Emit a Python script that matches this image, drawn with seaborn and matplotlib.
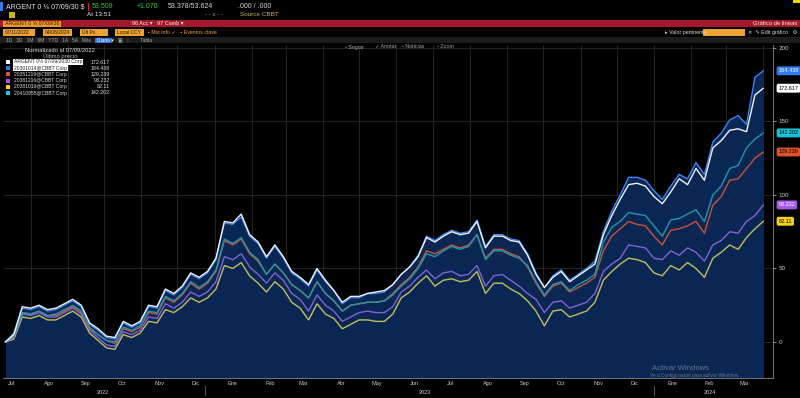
import pandas as pd
import matplotlib
matplotlib.use('Agg')
import matplotlib.pyplot as plt
import matplotlib.dates as mdates
from matplotlib.patches import Rectangle
from matplotlib.ticker import FuncFormatter
import seaborn as sns

# weekly closes, normalized to 0 at start
dates = pd.date_range('2022-07-11', periods=91, freq='7D')

argent_30 = [0, 5, 24, 23, 25, 22, 23, 26, 29, 25, 13, 9, 4, 3, 14, 11, 14, 25, 24, 36,
             33, 38, 47, 44, 48, 57, 82, 81, 87, 73, 68, 58, 66, 58, 48, 44, 39, 50, 42, 35,
             27, 31, 31, 33, 34, 35, 39, 46, 51, 58, 71, 68, 72, 75, 73, 74, 82, 64, 72, 72,
             69, 68, 59, 46, 37, 44, 48, 41, 45, 49, 53, 73, 86, 97, 107, 108, 106, 99, 94, 102,
             111, 107, 118, 110, 132, 137, 144, 145, 143, 168, 172.617]
bond_30 = [0, 6, 23, 22, 24, 21, 22, 25, 28, 24, 12, 8, 3, 2, 13, 10, 13, 24, 23, 35,
           32, 37, 46, 43, 47, 56, 81, 80, 85, 72, 67, 57, 65, 57, 47, 43, 38, 49, 41, 35,
           26, 30, 30, 33, 33, 34, 39, 46, 51, 59, 72, 69, 73, 76, 74, 75, 83, 65, 73, 73,
           70, 69, 60, 47, 37, 45, 49, 42, 46, 50, 55, 75, 89, 100, 112, 112, 110, 103, 97, 106,
           114, 111, 122, 114, 136, 142, 151, 154, 148, 180, 184.438]
bond_35 = [0, 4, 20, 19, 21, 18, 18, 21, 24, 20, 9, 5, 1, -1, 9, 7, 10, 20, 19, 30,
           27, 32, 40, 36, 40, 48, 69, 66, 70, 60, 55, 46, 53, 47, 39, 35, 30, 41, 33, 28,
           21, 25, 26, 27, 27, 28, 33, 39, 44, 51, 62, 60, 63, 66, 64, 66, 73, 57, 63, 63,
           60, 58, 51, 40, 31, 38, 40, 34, 37, 40, 44, 62, 72, 77, 82, 80, 79, 72, 66, 76,
           77, 79, 82, 74, 93, 99, 110, 111, 118, 125, 129.239]
bond_38a = [0, 3, 19, 18, 20, 17, 17, 20, 23, 19, 8, 3, -2, -3, 7, 5, 8, 17, 16, 26,
            23, 27, 34, 31, 34, 41, 58, 56, 60, 51, 46, 40, 47, 42, 33, 29, 21, 32, 25, 21,
            14, 17, 20, 21, 20, 20, 24, 34, 38, 44, 49, 43, 47, 48, 45, 46, 52, 38, 45, 46,
            42, 38, 33, 29, 20, 27, 28, 23, 25, 27, 33, 48, 53, 57, 66, 65, 64, 57, 56, 62,
            59, 64, 61, 55, 66, 69, 75, 74, 82, 86, 93.232]
bond_38b = [0, 2, 17, 16, 18, 15, 15, 18, 21, 17, 6, 1, -4, -5, 5, 3, 6, 14, 13, 22,
            20, 24, 30, 27, 30, 36, 52, 50, 54, 45, 40, 34, 41, 36, 27, 23, 15, 26, 19, 16,
            9, 12, 15, 15, 14, 14, 19, 30, 34, 40, 45, 38, 42, 43, 41, 42, 48, 33, 40, 40,
            36, 33, 28, 21, 11, 21, 22, 17, 19, 21, 27, 42, 48, 53, 57, 56, 54, 47, 45, 52,
            49, 54, 50, 44, 57, 61, 66, 63, 71, 77, 82.11]
bond_41 = [0, 4, 20, 19, 21, 18, 19, 22, 25, 21, 10, 5, 1, 0, 10, 8, 11, 21, 20, 31,
           28, 33, 41, 37, 41, 49, 70, 67, 71, 61, 56, 46, 53, 47, 39, 35, 30, 41, 33, 28,
           21, 25, 26, 27, 27, 28, 32, 38, 43, 50, 60, 58, 62, 65, 63, 65, 73, 56, 62, 62,
           59, 57, 52, 41, 32, 39, 41, 35, 39, 42, 46, 68, 78, 82, 88, 87, 86, 79, 72, 83,
           84, 87, 90, 82, 100, 106, 118, 120, 132, 138, 142.202]

names = ['ARGENT 0\u215b 07/09/2030 Corp', '20301014@CBBT Corp', '20351219@CBBT Corp',
         '20381216@CBBT Corp', '20381019@CBBT Corp', '20410955@CBBT Corp']
last_px = ['172.617', '184.438', '129.239', '93.232', '82.11', '142.202']
tag_colors = ['#ffffff', '#2f7cf6', '#e0532a', '#a259e6', '#f2d21b', '#19c3d6']
line_colors = ['#f2f2f2', '#3b86f7', '#c4553c', '#8462d0', '#c3bd5c', '#2396aa']
tag_text = ['#000000', '#ffffff', '#000000', '#ffffff', '#000000', '#000000']

month_es = ['Ene', 'Feb', 'Mar', 'Abr', 'May', 'Jun', 'Jul', 'Ago', 'Sep', 'Oct', 'Nov', 'Dic']
y_ticks = [0, 50, 100, 150, 200]

series = [argent_30, bond_30, bond_35, bond_38a, bond_38b, bond_41]
df = pd.DataFrame({'fecha': dates})
for n, s in zip(names, series):
    df[n] = s
long = df.melt(id_vars='fecha', var_name='serie', value_name='valor')

sns.set_theme(style='dark')
plt.rcParams['font.family'] = ['Liberation Sans', 'DejaVu Sans']

W, H = 800, 398
fig = plt.figure(figsize=(8, 3.98), dpi=100, facecolor='black')


def fx(x):
    return x / W


def fy(y):
    return 1 - y / H


def box(x0, y0, x1, y1, color, **kw):
    fig.add_artist(Rectangle((fx(x0), fy(y1)), (x1 - x0) / W, (y1 - y0) / H,
                             transform=fig.transFigure, color=color, lw=0, **kw))


def txt(x, y, s, color='#d0d0d0', size=4.5, **kw):
    fig.text(fx(x), fy(y), s, color=color, fontsize=size, va='center', **kw)


ax = fig.add_axes([fx(3), fy(378), 770 / W, 333 / H])
ax.set_facecolor('black')
ymin, ymax = -24.5, 202
ax.fill_between(df['fecha'], df[names[1]], ymin, color='#0a2754', lw=0, zorder=1)

order = [names[4], names[3], names[2], names[5], names[1], names[0]]
pal = dict(zip(names, line_colors))
sns.lineplot(data=long, x='fecha', y='valor', hue='serie', hue_order=order, palette=pal,
             legend=False, linewidth=1.0, ax=ax, zorder=3)

ax.set_xlim(pd.Timestamp('2022-07-09'), pd.Timestamp('2024-04-09'))
ax.set_ylim(ymin, ymax)
ax.set_xlabel('')
ax.set_ylabel('')

ax.xaxis.set_major_locator(mdates.MonthLocator())
ax.xaxis.set_major_formatter(FuncFormatter(lambda v, p: ''))
ax.xaxis.set_minor_locator(mdates.MonthLocator(bymonthday=16))
ax.xaxis.set_minor_formatter(FuncFormatter(lambda v, p: month_es[mdates.num2date(v).month - 1]))
ax.tick_params(axis='x', which='both', length=0, labelsize=4, colors='#c8c8c8', pad=2)
ax.yaxis.tick_right()
ax.set_yticks(y_ticks)
ax.tick_params(axis='y', length=2, labelsize=4.5, colors='#c8c8c8', pad=2, width=0.5)
ax.grid(True, which='major', color='#2b2b2b', lw=0.6)
for side in ['top', 'left']:
    ax.spines[side].set_visible(False)
for side in ['right', 'bottom']:
    ax.spines[side].set_color('#777777')
    ax.spines[side].set_linewidth(0.7)

# last price tags on the right axis
for v, c, tc in zip(last_px, tag_colors, tag_text):
    ax.annotate(v, xy=(1.0, float(v)), xycoords=ax.get_yaxis_transform(),
                xytext=(4, 0), textcoords='offset points', fontsize=4, color=tc,
                va='center', ha='left', annotation_clip=False,
                bbox=dict(boxstyle='round,pad=0.35', fc=c, ec='none'), zorder=6)

# year labels under the month axis
for x, yr in [(103, '2022'), (425, '2023'), (710, '2024')]:
    txt(x, 392, yr, size=4, ha='center')
box(205, 386, 206, 396, '#555555')
box(654, 386, 655, 396, '#555555')

# legend panel
txt(60, 50, 'Normalizado al 07/09/2022', color='#e0e0e0', size=4.2, ha='center')
txt(60, 56, '\u00daltimo precio', color='#bbbbbb', size=4.2, ha='center')
for i, (n, v, c) in enumerate(zip(names, last_px, tag_colors)):
    y = 62 + i * 6.2
    box(6, y - 2, 10, y + 2, c)
    if i < 2:
        txt(14, y, n, color='#202020', size=3.6,
            bbox=dict(fc='white', ec='none', pad=0.5))
    else:
        txt(14, y, n, color='#d8d8d8', size=3.6)
    txt(110, y, v, color='#e0e0e0', size=3.8, ha='right')

# chart toolbar inside the plot
for x, s in [(345, '\u25ab Seguir'), (375, '\u2713 Anotar'), (402, '\u25ab Noticias'),
             (437, '\u25e6 Zoom')]:
    txt(x, 47, s, color='#aaaaaa', size=3.8)

# terminal header
box(0, 2, 3, 11, '#2f7cf6')
txt(6, 7, 'ARGENT 0 \u215b 07/09/30 $', color='#e8e8e8', size=5)
box(88, 3, 89, 11, '#d02020')
txt(92, 7, '53.509', color='#2ecc40', size=5)
txt(137, 7, '+1.070', color='#2ecc40', size=5)
txt(168, 7, '53.378/53.624', color='#d8d8d8', size=5)
txt(238, 7, '.000 / .000', color='#d8d8d8', size=5)
box(9, 12, 15, 18, '#c8b400')
txt(87, 15, 'At 13:51', color='#e8e8e8', size=4.6)
txt(205, 15, '- - x - -', color='#999999', size=4.4)
txt(240, 15, 'Source CBBT', color='#c8b464', size=4.6)

box(0, 20, W, 27, '#a3182a')
box(3, 21, 61, 26.5, '#e89a2c')
txt(5, 23.5, 'ARGENT 0 \u215b 07/09/30', color='#3a1800', size=3.8)
txt(132, 23.5, '96 Acc \u25be   97 Camb \u25be', color='#f0f0f0', size=4)
txt(797, 23.5, 'Gr\u00e1fico de l\u00edneas', color='#f0f0f0', size=4.2, ha='right')

for (x0, x1), s in zip([(3, 35), (43, 72), (80, 108), (115, 144)],
                       ['07/11/2022', '04/08/2024', '\u00dalt Px', 'Local CCY']):
    box(x0, 29, x1, 35.5, '#eea234')
    txt(x0 + 2, 32.3, s, color='#2a1600', size=3.6)
txt(148, 32.3, '\u25aa Mst info \u2713   \u25aa Eventos clave', color='#eea234', size=3.8)
txt(665, 32.3, '\u25b8 Valor pertinente', color='#dddddd', size=3.8)
box(703, 29, 745, 35.5, '#eea234')
txt(748, 32.3, '\u2715  \u270e Edit gr\u00e1fico   \u2699', color='#dddddd', size=3.8)
box(793, 0, 800, 3, '#e8d800')

box(0, 37, W, 43, '#1c1c1c')
txt(6, 40, '1D   3D   1M   6M   YTD   1A   5A   M\u00e1x', color='#aaaaaa', size=3.5)
box(95, 37.5, 112, 42.5, '#2f6fd8')
txt(97, 40, 'Diario \u25be', color='#ffffff', size=3.5)
txt(118, 40, '\u25a3   \u2195        Tabla', color='#aaaaaa', size=3.5)

# screenshot watermark
txt(652, 368, 'Activar Windows', color='#7f8a99', size=5.5, alpha=0.8)
txt(650, 375, 'Ve a Configuraci\u00f3n para activar Windows.', color='#7f8a99', size=3.4,
    alpha=0.8)

fig.savefig('out.png', dpi=100, facecolor='black')
